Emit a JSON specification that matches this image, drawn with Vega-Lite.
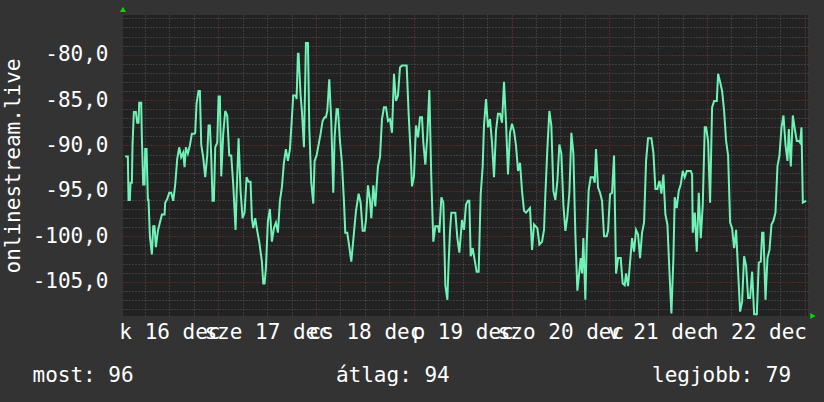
{
  "$schema": "https://vega.github.io/schema/vega-lite/v6.json",
  "width": 685,
  "height": 301,
  "autosize": "none",
  "padding": {"left": 123, "top": 15, "right": 16, "bottom": 86},
  "background": "#333333",
  "config": {
    "view": {"stroke": null, "fill": "#222222"},
    "font": "DejaVu Sans Mono"
  },
  "resolve": {"axis": {"x": "independent", "y": "independent"}},
  "data": {"values": [
    {"t":1.14,"v":-91.2},{"t":1.79,"v":-91.2},{"t":1.96,"v":-96},{"t":2.28,"v":-96},{"t":2.45,"v":-94.1},{"t":2.78,"v":-94.1},{"t":2.94,"v":-89.9},{"t":3.27,"v":-86.3},{"t":3.76,"v":-86.3},{"t":4.09,"v":-87.5},{"t":4.41,"v":-87.5},{"t":4.58,"v":-85.3},{"t":5.07,"v":-85.3},{"t":5.23,"v":-89.1},{"t":5.56,"v":-94.3},{"t":5.89,"v":-94.3},{"t":6.05,"v":-90.4},{"t":6.38,"v":-90.4},{"t":6.71,"v":-96},{"t":6.87,"v":-96},{"t":7.2,"v":-100},{"t":7.69,"v":-102},{"t":8.02,"v":-98.9},{"t":8.34,"v":-98.9},{"t":8.67,"v":-101.2},{"t":9.16,"v":-99.4},{"t":9.65,"v":-98.5},{"t":10.15,"v":-97.6},{"t":10.8,"v":-97.6},{"t":10.96,"v":-96.3},{"t":11.46,"v":-95.9},{"t":11.95,"v":-95.2},{"t":12.44,"v":-95.2},{"t":12.93,"v":-96.1},{"t":13.42,"v":-94.3},{"t":13.91,"v":-91.5},{"t":14.4,"v":-90.2},{"t":14.89,"v":-91.3},{"t":15.39,"v":-90.8},{"t":15.71,"v":-92.4},{"t":16.04,"v":-90.2},{"t":16.53,"v":-90.9},{"t":17.02,"v":-90},{"t":17.51,"v":-88.7},{"t":18.17,"v":-88.7},{"t":18.33,"v":-88.6},{"t":18.66,"v":-85.4},{"t":19.15,"v":-84},{"t":19.48,"v":-84},{"t":19.81,"v":-89.9},{"t":20.3,"v":-91.3},{"t":20.79,"v":-93.5},{"t":21.28,"v":-91.1},{"t":21.61,"v":-87.8},{"t":21.94,"v":-87.8},{"t":22.26,"v":-91.1},{"t":22.59,"v":-96.1},{"t":22.92,"v":-96.1},{"t":23.25,"v":-90.2},{"t":23.74,"v":-89.7},{"t":24.07,"v":-84.6},{"t":24.39,"v":-84.6},{"t":24.72,"v":-93.4},{"t":25.21,"v":-88.7},{"t":25.7,"v":-86.2},{"t":26.19,"v":-86.7},{"t":26.69,"v":-91.1},{"t":27.18,"v":-91.1},{"t":27.67,"v":-94.3},
    {"t":28.24,"v":-99.3},{"t":28.49,"v":-95.4},{"t":28.98,"v":-89.2},{"t":29.47,"v":-95},{"t":29.96,"v":-98},{"t":30.45,"v":-97.4},{"t":30.94,"v":-93.5},{"t":31.43,"v":-94},{"t":31.92,"v":-94},{"t":32.25,"v":-98},{"t":32.58,"v":-99.1},{"t":33.07,"v":-98},{"t":33.56,"v":-99.4},{"t":34.05,"v":-100.6},{"t":34.71,"v":-102.8},{"t":35.04,"v":-105.2},{"t":35.36,"v":-105.2},{"t":35.69,"v":-103.5},{"t":36.18,"v":-98.3},{"t":36.67,"v":-97},{"t":37.16,"v":-100.6},{"t":37.66,"v":-99.1},{"t":38.15,"v":-98.5},{"t":38.64,"v":-99.6},{"t":39.13,"v":-96.1},{"t":39.62,"v":-94.6},{"t":40.11,"v":-91.9},{"t":40.6,"v":-90.4},{"t":41.1,"v":-91.7},{"t":41.59,"v":-90.4},{"t":42.08,"v":-86.9},{"t":42.4,"v":-84.5},{"t":43.06,"v":-84.5},{"t":43.22,"v":-84.9},{"t":43.55,"v":-79.9},{"t":43.71,"v":-79.9},{"t":44.21,"v":-84.5},{"t":44.53,"v":-86.2},{"t":45.03,"v":-90.2},{"t":45.52,"v":-78.7},{"t":46.01,"v":-78.7},{"t":46.34,"v":-88},{"t":46.83,"v":-94.1},{"t":47.32,"v":-96.4},{"t":47.65,"v":-91.7},{"t":48.14,"v":-91.1},{"t":48.63,"v":-89.9},{"t":49.12,"v":-88.7},{"t":49.61,"v":-87.3},{"t":50.1,"v":-86.9},{"t":50.43,"v":-86.9},{"t":50.76,"v":-86.2},{"t":51.25,"v":-82.7},{"t":51.74,"v":-87.3},{"t":52.23,"v":-95.2},{"t":52.56,"v":-89.1},{"t":53.05,"v":-86},{"t":53.38,"v":-86},{"t":53.87,"v":-89.5},{"t":54.36,"v":-91.9},{"t":54.85,"v":-96.1},{"t":55.18,"v":-99.6},{"t":55.67,"v":-99.6},
    {"t":56.33,"v":-101.7},{"t":56.66,"v":-102.8},{"t":57.31,"v":-99.6},{"t":57.81,"v":-97.2},{"t":58.46,"v":-95.3},{"t":58.95,"v":-96.3},{"t":59.44,"v":-99.4},{"t":59.93,"v":-99.4},{"t":60.26,"v":-98.2},{"t":60.75,"v":-94.4},{"t":61.24,"v":-96},{"t":61.57,"v":-98},{"t":62.06,"v":-94.4},{"t":62.55,"v":-96.7},{"t":62.88,"v":-94.4},{"t":63.21,"v":-92.3},{"t":63.7,"v":-91.3},{"t":64.19,"v":-87.1},{"t":64.68,"v":-85.8},{"t":65.17,"v":-85.8},{"t":65.67,"v":-87.3},{"t":66.16,"v":-87.1},{"t":66.65,"v":-88.6},{"t":67.14,"v":-82.1},{"t":67.63,"v":-85.1},{"t":68.12,"v":-84.5},{"t":68.61,"v":-81.4},{"t":69.1,"v":-81.2},{"t":70.25,"v":-81.2},{"t":70.74,"v":-86.5},{"t":71.23,"v":-90.8},{"t":71.56,"v":-94.5},{"t":72.05,"v":-93.4},{"t":72.54,"v":-87.8},{"t":73.04,"v":-89.1},{"t":73.53,"v":-86.9},{"t":74.02,"v":-86.9},{"t":74.35,"v":-89.7},{"t":74.84,"v":-92.1},{"t":75.33,"v":-88.9},{"t":75.82,"v":-83.9},{"t":76.31,"v":-93.7},{"t":76.8,"v":-100.6},{"t":77.29,"v":-98.9},{"t":77.95,"v":-98.9},{"t":78.28,"v":-99.6},{"t":78.77,"v":-95.7},{"t":79.26,"v":-96.3},{"t":79.75,"v":-105.4},{"t":80.24,"v":-107},{"t":80.57,"v":-102.8},{"t":80.9,"v":-99.4},{"t":81.22,"v":-97.4},{"t":82.21,"v":-97.4},{"t":82.7,"v":-100.2},{"t":83.19,"v":-101.8},{"t":83.68,"v":-99.1},
    {"t":83.84,"v":-98.2},{"t":84.33,"v":-99.3},{"t":84.82,"v":-96.5},{"t":85.31,"v":-96.1},{"t":85.64,"v":-96.1},{"t":85.97,"v":-102.2},{"t":86.46,"v":-101.3},{"t":86.95,"v":-102.6},{"t":87.44,"v":-103.9},{"t":87.93,"v":-103.9},{"t":88.43,"v":-95.4},{"t":88.92,"v":-92.3},{"t":89.24,"v":-87.8},{"t":89.74,"v":-84.9},{"t":90.23,"v":-88},{"t":90.72,"v":-87.1},{"t":91.21,"v":-89.7},{"t":91.7,"v":-93.5},{"t":92.19,"v":-88.4},{"t":92.68,"v":-86.5},{"t":93.17,"v":-86.5},{"t":93.67,"v":-87.5},{"t":94.16,"v":-83},{"t":94.65,"v":-87.5},{"t":95.14,"v":-93.2},{"t":95.63,"v":-88.6},{"t":96.12,"v":-87.6},{"t":96.61,"v":-88.4},{"t":97.1,"v":-90},{"t":97.6,"v":-92.8},{"t":98.09,"v":-91.9},{"t":98.58,"v":-95},{"t":99.07,"v":-97.2},{"t":99.56,"v":-97.4},{"t":100.54,"v":-96.9},{"t":101.04,"v":-101.5},{"t":101.53,"v":-98.7},{"t":102.35,"v":-99.1},{"t":102.84,"v":-100.9},{"t":103.49,"v":-100.6},{"t":103.98,"v":-99.3},{"t":104.31,"v":-95.4},{"t":104.8,"v":-90.4},{"t":105.29,"v":-86.2},{"t":105.78,"v":-87.8},{"t":106.28,"v":-95},{"t":106.77,"v":-96},{"t":107.26,"v":-93.9},{"t":107.75,"v":-89.9},{"t":108.24,"v":-90.9},{"t":108.73,"v":-96.5},{"t":109.22,"v":-99.4},{"t":109.71,"v":-97.8},{"t":110.21,"v":-95.2},{"t":110.7,"v":-88.6},{"t":111.19,"v":-90.9},{"t":111.68,"v":-99.8},
    {"t":112.17,"v":-106},{"t":112.99,"v":-102.4},{"t":113.31,"v":-104.1},{"t":113.64,"v":-100.2},{"t":114.13,"v":-107},{"t":114.46,"v":-100.9},{"t":114.95,"v":-94.9},{"t":115.44,"v":-93.5},{"t":116.1,"v":-93.5},{"t":116.43,"v":-94.1},{"t":116.75,"v":-90.4},{"t":117.24,"v":-94.6},{"t":117.74,"v":-95.2},{"t":118.23,"v":-96.1},{"t":118.72,"v":-100},{"t":119.37,"v":-100},{"t":119.7,"v":-99.4},{"t":120.19,"v":-95.4},{"t":120.68,"v":-95.2},{"t":121.17,"v":-91.1},{"t":121.67,"v":-104.1},{"t":122.16,"v":-102.4},{"t":122.81,"v":-102.4},{"t":123.3,"v":-105.2},{"t":123.79,"v":-105.4},{"t":124.12,"v":-104.1},{"t":124.61,"v":-105.5},{"t":125.1,"v":-102.9},{"t":125.6,"v":-100.2},{"t":126.09,"v":-101.7},{"t":126.58,"v":-99.3},{"t":127.07,"v":-99.8},{"t":127.56,"v":-102.4},{"t":128.05,"v":-99.6},{"t":128.54,"v":-98.5},{"t":129.04,"v":-91.7},{"t":129.53,"v":-89.2},{"t":130.35,"v":-89.2},{"t":130.84,"v":-90.8},{"t":131.33,"v":-94.8},{"t":131.82,"v":-94.8},{"t":132.31,"v":-93.9},{"t":132.8,"v":-95.3},{"t":133.29,"v":-93.2},{"t":133.78,"v":-97.6},{"t":134.28,"v":-98.7},{"t":134.77,"v":-103.8},{"t":135.26,"v":-108.5},{"t":135.75,"v":-102.4},{"t":136.08,"v":-95.7},{"t":136.57,"v":-96.9},{"t":137.06,"v":-95},{"t":137.55,"v":-94.3},{"t":138.04,"v":-92.8},{"t":138.53,"v":-93.5},{"t":139.03,"v":-92.8},{"t":140.01,"v":-92.8},{"t":140.34,"v":-93.2},
    {"t":140.5,"v":-99.6},{"t":141,"v":-97.4},{"t":141.49,"v":-101.7},{"t":141.98,"v":-95.2},{"t":142.47,"v":-100.2},{"t":142.96,"v":-96.5},{"t":143.45,"v":-88},{"t":143.78,"v":-88},{"t":144.27,"v":-89.5},{"t":144.76,"v":-96.3},{"t":145.25,"v":-85.8},{"t":145.75,"v":-85.1},{"t":146.4,"v":-85.1},{"t":146.73,"v":-82.1},{"t":147.22,"v":-83},{"t":147.71,"v":-84},{"t":148.2,"v":-86.2},{"t":148.69,"v":-89.5},{"t":149.18,"v":-91.1},{"t":149.68,"v":-98.5},{"t":150.17,"v":-99.1},{"t":150.66,"v":-101.3},{"t":151.15,"v":-99.3},{"t":151.64,"v":-103.9},{"t":152.13,"v":-108.3},{"t":152.62,"v":-107.2},{"t":153.11,"v":-102.2},{"t":153.61,"v":-103.3},{"t":154.1,"v":-106.8},{"t":154.59,"v":-106.8},{"t":155.08,"v":-103.9},{"t":155.57,"v":-108.6},{"t":156.23,"v":-108.6},{"t":156.72,"v":-102.9},{"t":157.21,"v":-102.8},{"t":157.54,"v":-99.6},{"t":157.86,"v":-99.6},{"t":158.36,"v":-107},{"t":158.85,"v":-102.4},{"t":159.34,"v":-101.5},{"t":159.83,"v":-98.7},{"t":160.32,"v":-98.3},{"t":160.81,"v":-97.4},{"t":161.3,"v":-92.3},{"t":161.79,"v":-91.1},{"t":162.29,"v":-88},{"t":162.78,"v":-86.7},{"t":163.27,"v":-89.9},{"t":163.76,"v":-91.7},{"t":164.09,"v":-88.2},{"t":164.58,"v":-92.3},{"t":165.07,"v":-86.7},{"t":165.56,"v":-88.2},{"t":166.05,"v":-89.5},{"t":166.54,"v":-89.5},{"t":166.87,"v":-89.7},{"t":167.2,"v":-88},{"t":167.53,"v":-96.3},{"t":168.35,"v":-96.1}
  ]},
  "layer": [
    {
      "mark": {"type": "line", "color": "#6ff2b6", "strokeWidth": 2, "strokeJoin": "miter"},
      "encoding": {
        "x": {
          "field": "t", "type": "quantitative",
          "scale": {"domain": [0.6, 168.8], "nice": false, "zero": false},
          "axis": {
            "orient": "bottom",
            "values": [6,12,18,24,30,36,42,48,54,60,66,72,78,84,90,96,102,108,114,120,126,132,138,144,150,156,162,168],
            "grid": true,
            "gridColor": {"condition": {"test": "datum.value % 24 === 0", "value": "#7e3434"}, "value": "#585858"},
            "gridDash": [1, 2],
            "gridWidth": 1,
            "ticks": false,
            "tickSize": 0,
            "domain": false,
            "labelExpr": "datum.value % 24 === 12 ? ['k 16 dec','sze 17 dec','cs 18 dec','p 19 dec','szo 20 dec','v 21 dec','h 22 dec'][floor(datum.value / 24)] : ''",
            "labelFont": "DejaVu Sans Mono",
            "labelFontSize": 21,
            "labelColor": "#ffffff",
            "labelOverlap": false,
            "labelBound": false,
            "labelFlush": false,
            "labelPadding": 22,
            "labelBaseline": "alphabetic",
            "labelAlign": "center",
            "title": "most: 96\u00a0\u00a0\u00a0\u00a0\u00a0\u00a0\u00a0\u00a0\u00a0\u00a0\u00a0\u00a0\u00a0\u00a0\u00a0\u00a0átlag: 94\u00a0\u00a0\u00a0\u00a0\u00a0\u00a0\u00a0\u00a0\u00a0\u00a0\u00a0\u00a0\u00a0\u00a0\u00a0\u00a0legjobb: 79",
            "titleFont": "DejaVu Sans Mono",
            "titleFontSize": 21,
            "titleFontWeight": "normal",
            "titleColor": "#ffffff",
            "titleX": -91,
            "titleY": 65.5,
            "titleAlign": "left",
            "titleBaseline": "alphabetic"
          }
        },
        "y": {
          "field": "v", "type": "quantitative",
          "scale": {"domain": [-108.78, -75.63], "nice": false, "zero": false},
          "axis": {
            "orient": "left",
            "values": [-108,-107,-106,-105,-104,-103,-102,-101,-100,-99,-98,-97,-96,-95,-94,-93,-92,-91,-90,-89,-88,-87,-86,-85,-84,-83,-82,-81,-80,-79,-78,-77,-76],
            "grid": true,
            "gridColor": {"condition": {"test": "datum.value % 5 === 0", "value": "#7e3434"}, "value": "#585858"},
            "gridDash": [1, 2],
            "gridWidth": 1,
            "ticks": false,
            "tickSize": 0,
            "domain": false,
            "labelExpr": "datum.value % 5 === 0 ? (datum.value < 0 ? '-' : '') + abs(datum.value) + ',0' : ''",
            "labelFont": "DejaVu Sans Mono",
            "labelFontSize": 21,
            "labelColor": "#ffffff",
            "labelOverlap": false,
            "labelBound": false,
            "labelFlush": false,
            "labelPadding": 15,
            "labelAlign": "right",
            "labelBaseline": "middle",
            "title": "onlinestream.live",
            "titleFont": "DejaVu Sans Mono",
            "titleFontSize": 21,
            "titleFontWeight": "normal",
            "titleColor": "#ffffff",
            "titleAngle": 270,
            "titleX": -104,
            "titleY": 150.5,
            "titleAlign": "center",
            "titleBaseline": "alphabetic"
          }
        }
      }
    },
    {
      "data": {"values": [{}]},
      "mark": {"type": "point", "shape": "triangle-up", "filled": true, "color": "#00dd00", "opacity": 1, "size": 36, "clip": false},
      "encoding": {
        "x": {"datum": 0.6, "type": "quantitative", "axis": null},
        "y": {"datum": -75.0, "type": "quantitative", "axis": null}
      }
    },
    {
      "data": {"values": [{}]},
      "mark": {"type": "point", "shape": "triangle-right", "filled": true, "color": "#00dd00", "opacity": 1, "size": 36, "clip": false},
      "encoding": {
        "x": {"datum": 170.0, "type": "quantitative", "axis": null},
        "y": {"datum": -108.78, "type": "quantitative", "axis": null}
      }
    }
  ]
}
